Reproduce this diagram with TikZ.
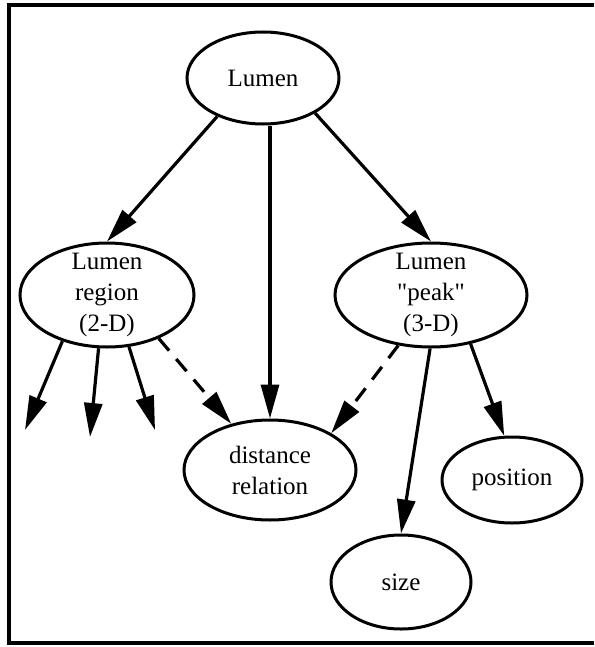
\documentclass[tikz,border=0pt]{standalone}
\usepackage{fontspec}
\setmainfont{Liberation Serif}[Ligatures=TeXOff]
\usetikzlibrary{arrows.meta,shapes.geometric}

\begin{document}
\begin{tikzpicture}[x=0.5pt,y=-0.5pt,
      font=\fontsize{12.5}{15.5}\selectfont,
      ell/.style={draw,ellipse,line width=1.5pt,inner xsep=0pt,inner ysep=-10pt,align=center},
      dep/.style={-{Triangle[length=17pt,width=9pt]},line width=1.6pt},
      weak/.style={dep,dash pattern=on 8pt off 5.5pt}]
      \useasboundingbox (0,0) rectangle (594,647);
      % frame, open on the right
      \draw[line width=2pt] (594,5) -- (9,5) -- (9,643) -- (594,643);
      \node[ell,minimum width=76pt,minimum height=46pt] (lumen) at (263,78) {Lumen};
      \node[ell,minimum width=87pt,minimum height=52pt] (region) at (107,295) {Lumen\\region\\(2-D)};
      \node[ell,minimum width=96pt,minimum height=52pt] (peak) at (431,295) {Lumen\\"peak"\\(3-D)};
      \node[ell,minimum width=86pt,minimum height=50pt] (dist) at (270,470) {distance\\relation};
      \node[ell,minimum width=70pt,minimum height=43pt] (pos) at (512,480) {position};
      \node[ell,minimum width=70pt,minimum height=47pt] (size) at (401,582) {size};
      \coordinate (r1) at (25,430);
      \coordinate (r2) at (90,437);
      \coordinate (r3) at (155,430);
      \draw[dep] (lumen.220) -- (region.north);
      \draw[dep] (lumen.south -| dist.north) -- (dist.north);
      \draw[dep] (lumen.-34) -- (peak.north);
      \draw[dep] (region.226) -- (r1);
      \draw[dep] (region.261) -- (r2);
      \draw[dep] (region.293) -- (r3);
      \draw[weak] (region.320) -- (dist.130);
      \draw[weak] (peak.237) -- (dist.31);
      \draw[dep] (peak.269) -- (size.north);
      \draw[dep] (peak.309) -- (pos.100);
    \end{tikzpicture}
\end{document}
